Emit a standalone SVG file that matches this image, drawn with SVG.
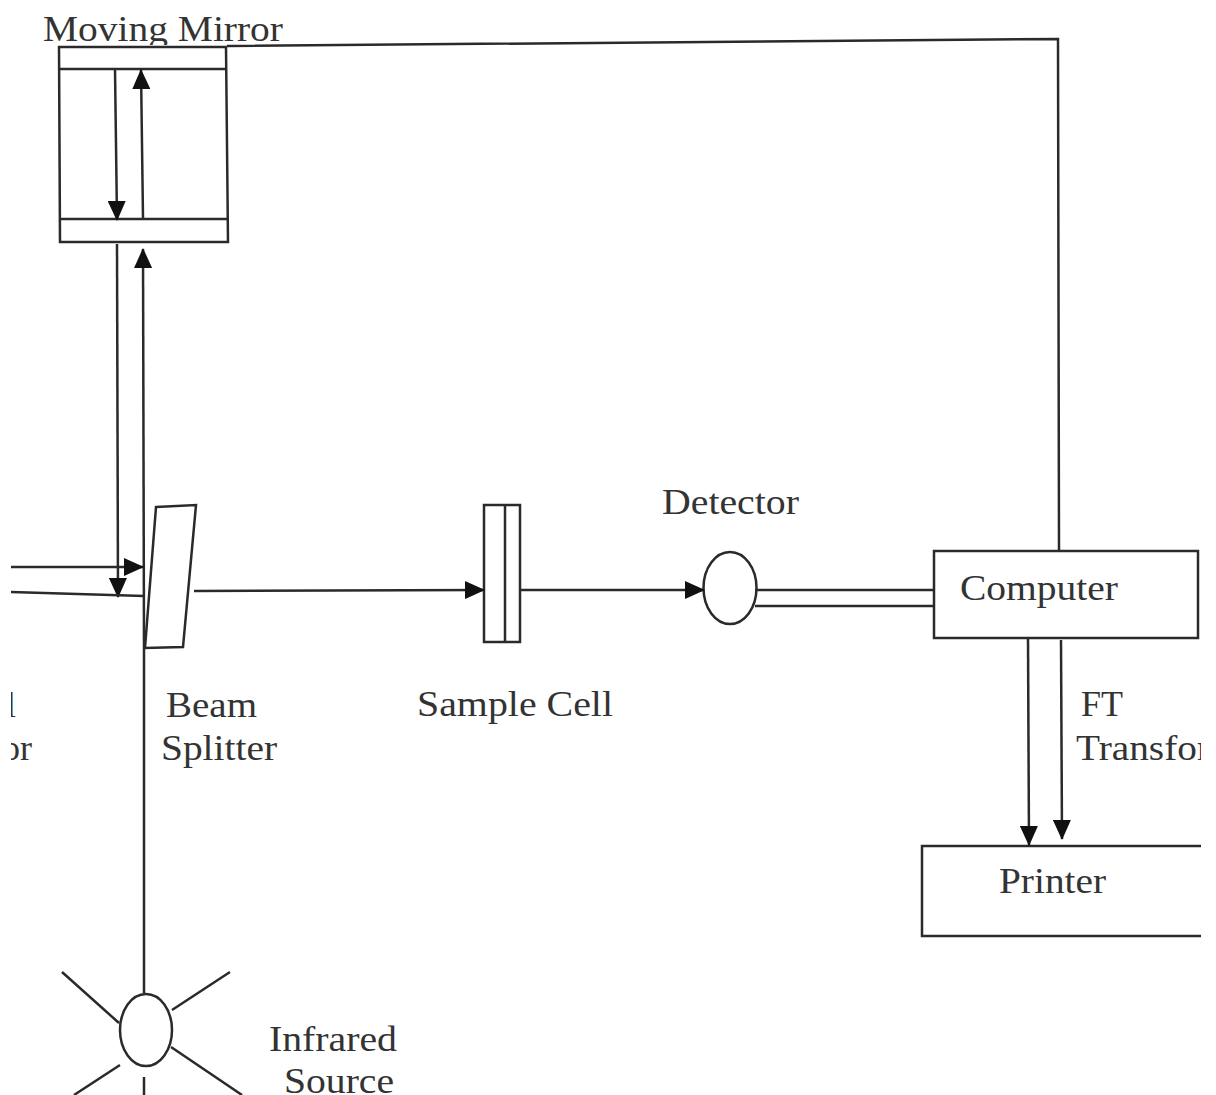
<svg xmlns="http://www.w3.org/2000/svg" width="1216" height="1095" viewBox="0 0 1216 1095">
<style>
.l{fill:none;stroke:#2a2a2a;stroke-width:2.5}
.w{fill:#fff;stroke:#2a2a2a;stroke-width:2.5}
text{font-family:"Liberation Serif","Times New Roman",serif;font-size:36px;fill:#333}
</style>
<defs>
<marker id="a" markerUnits="userSpaceOnUse" markerWidth="20" markerHeight="18" refX="19" refY="9" orient="auto"><path d="M0 0L20 9L0 18Z" fill="#111"/></marker>
<clipPath id="c"><rect x="11" y="0" width="1190" height="1095"/></clipPath>
<clipPath id="m"><rect x="0" y="0" width="1216" height="45"/></clipPath>
</defs>
<rect width="1216" height="1095" fill="#fff"/>
<g id="moving-mirror">
<path class="w" d="M59 47H226L228 242H60Z"/>
<path class="l" d="M59 69H226M60 219H227"/>
<text x="43" y="41" clip-path="url(#m)" textLength="240" lengthAdjust="spacingAndGlyphs">Moving Mirror</text>
</g>
<g id="beam-splitter">
<path class="w" d="M156 507L196 505L183 647L145 648Z"/>
<text x="166" y="717" textLength="91" lengthAdjust="spacingAndGlyphs">Beam</text>
<text x="161" y="760" textLength="116" lengthAdjust="spacingAndGlyphs">Splitter</text>
</g>
<g id="sample-cell">
<rect class="w" x="484" y="505" width="36" height="137"/>
<path class="l" d="M505 505V642"/>
<text x="417" y="716" textLength="196" lengthAdjust="spacingAndGlyphs">Sample Cell</text>
</g>
<g id="detector">
<ellipse class="w" cx="730" cy="588" rx="26.500" ry="36"/>
<text x="662" y="514" textLength="137" lengthAdjust="spacingAndGlyphs">Detector</text>
</g>
<g id="computer">
<rect class="w" x="934" y="551" width="264" height="87"/>
<text x="960" y="600" textLength="158" lengthAdjust="spacingAndGlyphs">Computer</text>
</g>
<g id="printer">
<path class="l" d="M1201 846H922V936H1201"/>
<text x="999" y="893" textLength="107" lengthAdjust="spacingAndGlyphs">Printer</text>
</g>
<g id="infrared-source">
<ellipse class="w" cx="146" cy="1030" rx="26" ry="36"/>
<path class="l" d="M62 972L119 1023M172 1010L230 972M171 1047L242 1095M120 1065L74 1095M144 1077V1095"/>
<text x="269" y="1051" textLength="128" lengthAdjust="spacingAndGlyphs">Infrared</text>
<text x="284" y="1093" textLength="110" lengthAdjust="spacingAndGlyphs">Source</text>
</g>
<g id="labels" clip-path="url(#c)">
<text x="1081" y="716">FT</text>
<text x="1076" y="760" textLength="134" lengthAdjust="spacingAndGlyphs">Transfor</text>
<text x="6" y="717">l</text>
<text x="2" y="760">or</text>
</g>
<g id="connectors">
<path class="l" d="M227 46L1058 39L1059 551"/>
<path class="l" marker-end="url(#a)" d="M115 69L117 220"/>
<path class="l" marker-end="url(#a)" d="M143 218L141 70"/>
<path class="l" marker-end="url(#a)" d="M117 244L118 597"/>
<path class="l" marker-end="url(#a)" d="M144 648L143 249"/>
<path class="l" marker-end="url(#a)" d="M11 567L143 567"/>
<path class="l" d="M11 592L144 596"/>
<path class="l" d="M144 648L144 993"/>
<path class="l" marker-end="url(#a)" d="M194 591L484 590"/>
<path class="l" marker-end="url(#a)" d="M521 590L704 590"/>
<path class="l" d="M755 590L934 590M755 606L934 606"/>
<path class="l" marker-end="url(#a)" d="M1028 638L1029 845"/>
<path class="l" marker-end="url(#a)" d="M1061 640L1062 839"/>
</g>
</svg>
